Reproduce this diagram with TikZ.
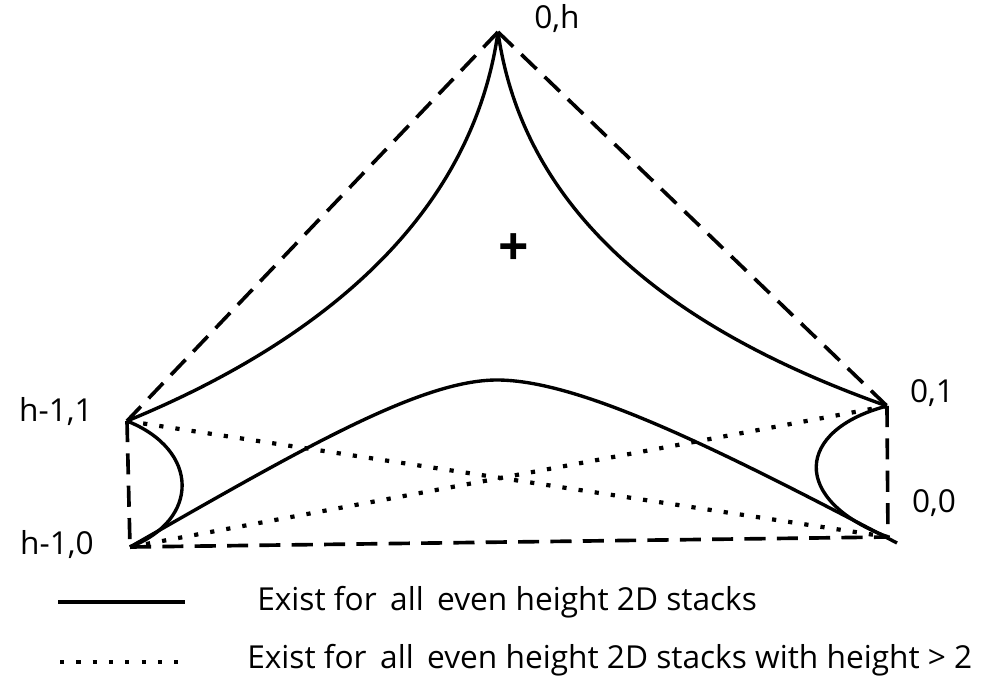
\documentclass[tikz,border=0pt]{standalone}
\usepackage{fontspec}
\setmainfont{Open Sans}
\usetikzlibrary{positioning}

\begin{document}
\begin{tikzpicture}[x=0.025cm, y=-0.025cm,
  edge/.style={line width=2.4pt},
  bound/.style={line width=2.6pt, dash pattern=on 15pt off 8pt},
  dotline/.style={line width=3pt, dash pattern=on 3pt off 8.6pt},
  vlabel/.style={font=\fontsize{22.5}{26}\selectfont, inner sep=1pt},
  legtext/.style={font=\fontsize{22.5}{26}\selectfont, inner sep=0pt, anchor=west}]
  \useasboundingbox (0,0) rectangle (1008,685);
  % corners of the stack graph
  \coordinate (top) at (498,32);
  \coordinate (lu) at (127,421);
  \coordinate (ll) at (130,547);
  \coordinate (ru) at (887,406);
  \coordinate (rl) at (888,537);
  \coordinate (peak) at (497,380);
  \coordinate (tail) at (897,543);
  % dashed outline
  \draw[bound] (top) -- (lu);
  \draw[bound] (top) -- (ru);
  \draw[bound] (lu) -- (ll);
  \draw[bound] (ru) -- (rl);
  \draw[bound] (ll) -- (rl);
  % solid curves
  \draw[edge] (top) .. controls (470,230) and (300,350) .. (lu);
  \draw[edge] (top) .. controls (526,230) and (700,340) .. (ru);
  \draw[edge] (lu) .. controls (200,450) and (200,520) .. (ll);
  \draw[edge] (ru) .. controls (795,430) and (790,500) .. (rl);
  \draw[edge] (ll) .. controls (300,450) and (420,380) .. (peak)
                   .. controls (580,380) and (720,450) .. (tail);
  % dotted
  \draw[dotline] (lu) -- (rl);
  \draw[dotline] (ll) -- (ru);
  % labels
  \node[vlabel] (ltop) at (557,19) {0,h};
  \node[vlabel] (llu) at (56,412) {h-1,1};
  \node[vlabel] (lll) at (57,545) {h-1,0};
  \node[vlabel] (lru) at (932,393) {0,1};
  \node[vlabel] (lrl) at (934,503) {0,0};
  \node[font=\bfseries\fontsize{38}{38}\selectfont, inner sep=0pt] (plus) at (514,250) {+};
  % legend
  \coordinate (sa) at (58,602);
  \coordinate (sb) at (185,602);
  \coordinate (da) at (60,662);
  \coordinate (db) at (186,662);
  \draw[edge] (sa) -- (sb);
  \draw[dotline] (da) -- (db);
  \node[legtext] (t1) at (257,602) {Exist for\, all\, even height 2D stacks};
  \node[legtext] (t2) at (247,660) {Exist for\, all\, even height 2D stacks with height > 2};
\end{tikzpicture}
\end{document}
